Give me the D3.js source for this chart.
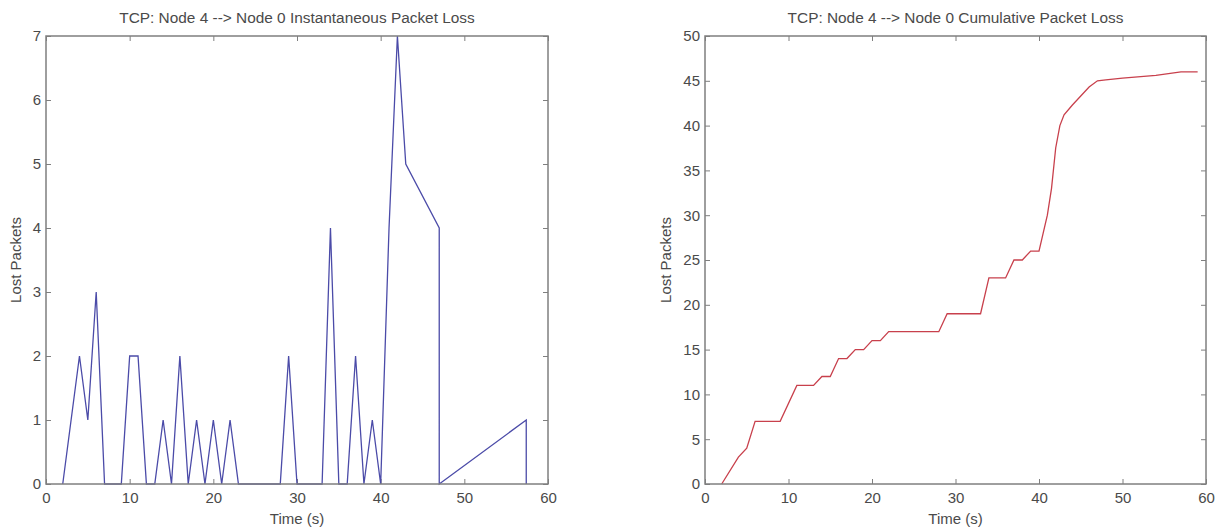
<!DOCTYPE html>
<html>
<head>
<meta charset="utf-8">
<script src="https://cdn.jsdelivr.net/npm/d3@7"></script>
<style>
  body { margin: 0; background: #fff; }
  text { font-family: "Liberation Sans", Arial, sans-serif; fill: #4a4a4a; }
  .tick line { stroke: #7f7f7f; }
  .tick text { font-size: 15px; }
</style>
</head>
<body>
<script>
// instantaneous loss (left panel)
const instTime = [2, 4, 5, 6, 7, 9, 10, 11, 12, 13, 14, 15, 16, 17, 18, 19, 20, 21, 22, 23,
                  28, 29, 30, 33, 34, 35, 36, 37, 38, 39, 40, 41, 42, 43, 47, 47, 57.4, 57.4];
const instLoss = [0, 2, 1, 3, 0, 0, 2, 2, 0, 0, 1, 0, 2, 0, 1, 0, 1, 0, 1, 0,
                  0, 2, 0, 0, 4, 0, 0, 2, 0, 1, 0, 4, 7, 5, 4, 0, 1, 0];

// cumulative loss (right panel)
const cumTime = [2, 4, 5, 6, 9, 11, 13, 14, 15, 16, 17, 18, 19, 20, 21, 22, 28, 29, 33, 34,
                 36, 37, 38, 39, 40, 40.5, 41, 41.5, 42, 42.5, 43, 44, 45, 46, 47, 48, 50, 54, 57, 59];
const cumLoss = [0, 3, 4, 7, 7, 11, 11, 12, 12, 14, 14, 15, 15, 16, 16, 17, 17, 19, 19, 23,
                 23, 25, 25, 26, 26, 28, 30, 33, 37.5, 40, 41.2, 42.3, 43.3, 44.3, 45, 45.1, 45.3, 45.6, 46, 46];

const xTicks = [0, 10, 20, 30, 40, 50, 60];
const instYTicks = [0, 1, 2, 3, 4, 5, 6, 7];
const cumYTicks = [0, 5, 10, 15, 20, 25, 30, 35, 40, 45, 50];

const svg = d3.select("body").append("svg")
   .attr("width", 1221)
   .attr("height", 529);

function drawPanel(opts) {
   const x = d3.scaleLinear().domain([0, 60]).range([opts.left, opts.right]);
   const y = d3.scaleLinear().domain([0, opts.yMax]).range([484, 36]);
   const g = svg.append("g");
   const fmt = d3.format("d");

   // bottom / left axes with labels, ticks pointing inward
   g.append("g")
      .attr("transform", "translate(0,484)")
      .call(d3.axisBottom(x).tickValues(xTicks).tickFormat(fmt).tickSizeInner(-5).tickSizeOuter(0).tickPadding(8))
      .call(a => a.select(".domain").remove());

   g.append("g")
      .attr("transform", "translate(" + opts.left + ",0)")
      .call(d3.axisLeft(y).tickValues(opts.yTicks).tickFormat(fmt).tickSizeInner(-5).tickSizeOuter(0).tickPadding(5))
      .call(a => a.select(".domain").remove());

   // mirrored ticks on top / right
   g.append("g")
      .attr("transform", "translate(0,36)")
      .call(d3.axisTop(x).tickValues(xTicks).tickSizeInner(-5).tickSizeOuter(0).tickFormat(""))
      .call(a => a.select(".domain").remove());

   g.append("g")
      .attr("transform", "translate(" + opts.right + ",0)")
      .call(d3.axisRight(y).tickValues(opts.yTicks).tickSizeInner(-5).tickSizeOuter(0).tickFormat(""))
      .call(a => a.select(".domain").remove());

   g.selectAll(".tick text").attr("font-family", null).attr("font-size", null);

   // the data line
   const pts = opts.xs.map((t, i) => [t, opts.ys[i]]);
   g.append("path")
      .datum(pts)
      .attr("fill", "none")
      .attr("stroke", opts.color)
      .attr("stroke-width", 1.3)
      .attr("d", d3.line().x(d => x(d[0])).y(d => y(d[1])));

   // axes box
   g.append("rect")
      .attr("x", opts.left)
      .attr("y", 36)
      .attr("width", opts.right - opts.left)
      .attr("height", 448)
      .attr("fill", "none")
      .attr("stroke", "#7f7f7f")
      .attr("stroke-width", 1.5);

   g.append("text")
      .attr("x", (opts.left + opts.right) / 2)
      .attr("y", 23)
      .attr("text-anchor", "middle")
      .style("font-size", "15.4px")
      .text(opts.title);

   g.append("text")
      .attr("x", (opts.left + opts.right) / 2)
      .attr("y", 524)
      .attr("text-anchor", "middle")
      .style("font-size", "15px")
      .text("Time (s)");

   g.append("text")
      .attr("transform", "translate(" + opts.yLabelX + ",260) rotate(-90)")
      .attr("text-anchor", "middle")
      .style("font-size", "15px")
      .text("Lost Packets");
}

drawPanel({
   left: 46, right: 548, yMax: 7, yTicks: instYTicks,
   xs: instTime, ys: instLoss, color: "#4b4ba8", yLabelX: 21,
   title: "TCP: Node 4 --> Node 0 Instantaneous Packet Loss"
});

drawPanel({
   left: 705, right: 1206, yMax: 50, yTicks: cumYTicks,
   xs: cumTime, ys: cumLoss, color: "#c8404c", yLabelX: 671,
   title: "TCP: Node 4 --> Node 0 Cumulative Packet Loss"
});
</script>
</body>
</html>
